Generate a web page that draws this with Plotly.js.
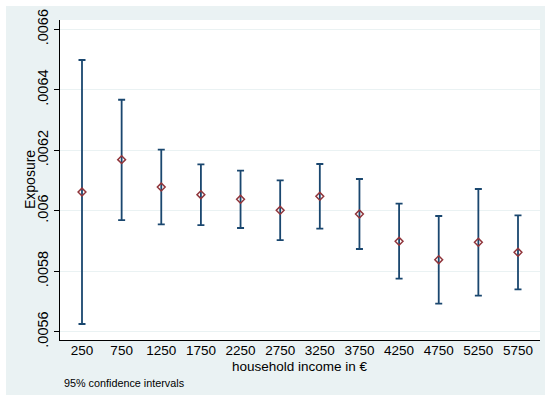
<!DOCTYPE html>
<html>
<head>
<meta charset="utf-8">
<script src="https://cdn.plot.ly/plotly-3.0.1.min.js"></script>
<style>
  html, body { margin: 0; padding: 0; background: #ffffff; }
  #chart { position: absolute; left: 6px; top: 6px; width: 539px; height: 389px; }
</style>
</head>
<body>
<div id="chart"></div>
<script>
// household income categories (€)
const income = [250, 750, 1250, 1750, 2250, 2750, 3250, 3750, 4250, 4750, 5250, 5750];
// point estimates of Exposure
const exposure = [0.006062, 0.006169, 0.0060785, 0.006053, 0.0060378, 0.0060014,
                  0.0060477, 0.0059892, 0.005899, 0.0058382, 0.0058956, 0.0058625];
// 95% confidence interval bounds
const ciLow  = [0.0056255, 0.005969, 0.005955, 0.0059528, 0.005943, 0.0059032,
                0.0059407, 0.0058735, 0.0057754, 0.0056927, 0.0057192, 0.0057402];
const ciHigh = [0.0064985, 0.006367, 0.006202, 0.0061535, 0.0061325, 0.0061006,
                0.0061546, 0.006105, 0.0060234, 0.0059826, 0.0060719, 0.0059849];
// y tick values and labels
const yTickVals = [0.0056, 0.0058, 0.006, 0.0062, 0.0064, 0.0066];
const yTickText = ['.0056', '.0058', '.006', '.0062', '.0064', '.0066'];

const errPlus = ciHigh.map((h, i) => h - exposure[i]);
const errMinus = ciLow.map((l, i) => exposure[i] - l);

const FONT = 'Liberation Sans, Arial, Helvetica, sans-serif';

const trace = {
  type: 'scatter',
  mode: 'markers',
  x: income,
  y: exposure,
  marker: {
    symbol: 'diamond-open',
    size: 6,
    color: '#90353b',
    line: { width: 1.5, color: '#90353b' }
  },
  error_y: {
    type: 'data',
    symmetric: false,
    array: errPlus,
    arrayminus: errMinus,
    color: '#1a476f',
    thickness: 1.8,
    width: 3.5
  },
  hoverinfo: 'x+y',
  showlegend: false
};

const layout = {
  width: 539,
  height: 389,
  margin: { l: 54, r: 5, t: 14, b: 55, pad: 0 },
  paper_bgcolor: '#eaf2f3',
  plot_bgcolor: '#ffffff',
  font: { family: FONT, size: 13.5, color: '#000000' },
  showlegend: false,
  xaxis: {
    range: [-27.5, 6027.5],
    tickmode: 'array',
    tickvals: income,
    ticktext: income.map(String),
    ticks: '',
    ticklabelstandoff: -2,
    showgrid: false,
    zeroline: false,
    showline: true,
    linecolor: '#000000',
    linewidth: 1,
    tickfont: { family: FONT, size: 13.5, color: '#000000' }
  },
  yaxis: {
    range: [0.0055726, 0.0066308],
    tickmode: 'array',
    tickvals: yTickVals,
    ticktext: yTickText,
    tickangle: -90,
    ticks: 'outside',
    ticklen: 5,
    tickcolor: '#000000',
    tickwidth: 1,
    showgrid: true,
    gridcolor: '#eaf2f3',
    gridwidth: 1,
    zeroline: false,
    showline: true,
    linecolor: '#000000',
    linewidth: 1,
    tickfont: { family: FONT, size: 14.5, color: '#000000' }
  },
  annotations: [
    {
      xref: 'paper', yref: 'paper',
      x: 0.5, y: -0.083,
      xanchor: 'center', yanchor: 'middle',
      text: 'household income in €',
      showarrow: false,
      font: { family: FONT, size: 13.5, color: '#000000' }
    },
    {
      xref: 'paper', yref: 'paper',
      x: -0.0625, y: 0.5,
      xanchor: 'center', yanchor: 'middle',
      textangle: -90,
      text: 'Exposure',
      showarrow: false,
      font: { family: FONT, size: 14, color: '#000000' }
    },
    {
      xref: 'paper', yref: 'paper',
      x: 0.0, y: -0.134,
      xanchor: 'left', yanchor: 'middle',
      xshift: 2,
      text: '95% confidence intervals',
      showarrow: false,
      font: { family: FONT, size: 10.8, color: '#000000' }
    }
  ]
};

Plotly.newPlot('chart', [trace], layout, { displayModeBar: false, staticPlot: true });
</script>
</body>
</html>
